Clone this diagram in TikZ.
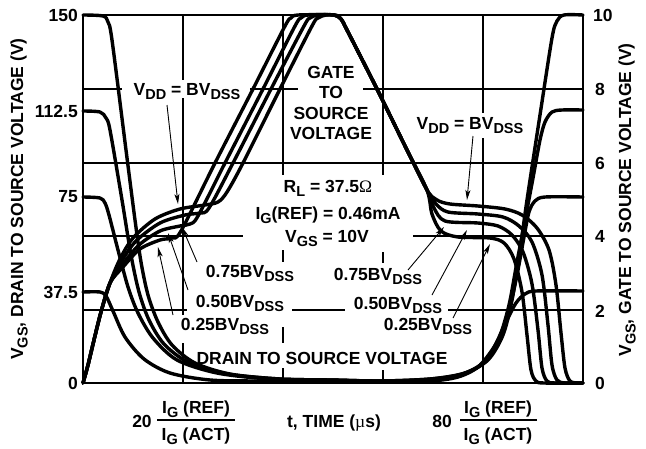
\documentclass[tikz,border=0pt]{standalone}
\usepackage{fontspec}
\setmainfont{Liberation Sans}
\newfontfamily\symf{Liberation Serif}
\usetikzlibrary{arrows.meta}
\newcommand{\subtx}[1]{\raisebox{-4.5pt}{\fontsize{14.5}{14.5}\selectfont #1}}

\begin{document}
\begin{tikzpicture}[x=1pt,y=-1pt,
  wave/.style={line width=3.4pt,line join=round,line cap=round},
  gridln/.style={line width=1.3pt},
  pointer/.style={line width=0.9pt,-{Stealth[length=10pt,width=5pt,inset=2.5pt]}},
  every node/.style={font=\bfseries\fontsize{17.5}{20.5}\selectfont,inner sep=0pt}]
\useasboundingbox (0,0) rectangle (646,448);
\draw[gridln] (83,89) -- (122,89) (250,89) -- (298,89) (363,89) -- (583,89);
\draw[gridln] (83,163) -- (583,163);
\draw[gridln] (83,236) -- (243,236) (413,236) -- (583,236);
\draw[gridln] (83,310) -- (187,310) (292,310) -- (345,310) (448,310) -- (583,310);
\draw[gridln] (183,15) -- (183,80) (183,98) -- (183,315) (183,343) -- (183,383);
\draw[gridln] (283,15) -- (283,175) (283,250) -- (283,262) (283,327) -- (283,343) (283,368) -- (283,383);
\draw[gridln] (383,15) -- (383,175) (383,252) -- (383,263) (383,370) -- (383,383);
\draw[gridln] (483,15) -- (483,113) (483,138) -- (483,383);
\draw[line width=1.5pt] (83,15) rectangle (583,383);

\node[anchor=east] (l150) at (78,15) {150};
\node[anchor=east] (l112) at (78,111) {112.5};
\node[anchor=east] (l75) at (78,197) {75};
\node[anchor=east] (l37) at (78,292) {37.5};
\node[anchor=east] (l0) at (78,383) {0};
\node[anchor=west] (r10) at (593,15) {10};
\node[anchor=west] (r8) at (595,89) {8};
\node[anchor=west] (r6) at (595,163) {6};
\node[anchor=west] (r4) at (595,236) {4};
\node[anchor=west] (r2) at (595,311) {2};
\node[anchor=west] (r0) at (595,383) {0};
\node[rotate=90] (ttlL) at (19,199) {V\subtx{GS}, DRAIN TO SOURCE VOLTAGE (V)};
\node[rotate=90] (ttlR) at (627,200) {V\subtx{GS}, GATE TO SOURCE VOLTAGE (V)};

\node[anchor=base] (vddL) at (187,95) {V\subtx{DD} = BV\subtx{DSS}};
\node[anchor=base] (vddR) at (470,129) {V\subtx{DD} = BV\subtx{DSS}};
\node[align=center] (gate) at (331,103) {GATE\\TO\\SOURCE\\VOLTAGE};
\node[anchor=base] (rl) at (328,192) {R\subtx{L} = 37.5{\symf\mdseries Ω}};
\node[anchor=base] (igref) at (328,219) {I\subtx{G}(REF) = 0.46mA};
\node[anchor=base] (vgs) at (327,242) {V\subtx{GS} = 10V};
\node[anchor=base] (p75L) at (250,277) {0.75BV\subtx{DSS}};
\node[anchor=base] (p50L) at (240,307) {0.50BV\subtx{DSS}};
\node[anchor=base] (p25L) at (225,330) {0.25BV\subtx{DSS}};
\node[anchor=base] (p75R) at (378,280) {0.75BV\subtx{DSS}};
\node[anchor=base] (p50R) at (398,309) {0.50BV\subtx{DSS}};
\node[anchor=base] (p25R) at (428,330) {0.25BV\subtx{DSS}};
\node[anchor=base] (drain) at (322,364) {DRAIN TO SOURCE VOLTAGE};

\node[anchor=base] (n20) at (142,427) {20};
\node[anchor=base] (numL) at (196,413) {I\subtx{G} (REF)};
\node[anchor=base] (denL) at (196,440) {I\subtx{G} (ACT)};
\draw[line width=1.5pt] (157,420) -- (235,420);
\node[anchor=base] (time) at (334,427) {t, TIME ({\symf\mdseries µ}s)};
\node[anchor=base] (n80) at (442,427) {80};
\node[anchor=base] (numR) at (498,413) {I\subtx{G} (REF)};
\node[anchor=base] (denR) at (498,440) {I\subtx{G} (ACT)};
\draw[line width=1.5pt] (460,420) -- (537,420);

\draw[wave] plot[smooth,tension=0.5] coordinates {(83,383) (88,365) (94,340) (101,312) (110,283) (120,259) (133,238) (155,219) (180,209) (205,205) (218,202) (227,192) (243,163) (280,89) (312,26) (318,18) (326,15) (334,15) (341,19) (347,30) (377,89) (407,150) (427,190) (437,200) (450,204) (478,206) (505,209) (522,215) (537,228) (549,250) (556,285) (561,333) (565,368) (570,381) (578,383) (583,383)};
\draw[wave] plot[smooth,tension=0.5] coordinates {(83,383) (88,365) (94,340) (101,312) (110,283) (121,262) (136,241) (160,223) (185,215) (200,213) (209,208) (233,163) (271,89) (304,26) (310,18) (318,15) (334,15) (341,19) (347,30) (377,89) (407,150) (427,190) (436,204) (448,212) (478,214) (503,217) (519,226) (532,242) (542,275) (548,325) (552,365) (557,380) (565,383) (583,383)};
\draw[wave] plot[smooth,tension=0.5] coordinates {(83,383) (88,365) (94,340) (101,312) (110,283) (122,265) (139,245) (160,231) (180,226) (190,224) (198,216) (225,163) (263,89) (295,26) (301,18) (308,15) (334,15) (341,19) (347,30) (377,89) (407,150) (427,190) (434,208) (445,221) (478,223) (498,226) (512,235) (523,252) (532,284) (538,330) (542,368) (547,381) (555,383) (583,383)};
\draw[wave] plot[smooth,tension=0.5] coordinates {(83,383) (88,365) (94,340) (101,312) (110,283) (123,267) (140,249) (160,240) (172,238) (181,231) (215,163) (253,89) (285,26) (291,18) (298,15) (334,15) (341,19) (347,30) (377,89) (407,150) (427,190) (432,214) (441,231) (458,237) (490,238) (504,243) (514,259) (522,292) (527,335) (531,370) (536,381) (544,383) (583,383)};

\draw[wave] plot[smooth,tension=0.5] coordinates {(83,15) (103,16) (108,22) (112,40) (126,150) (135,220) (141,262) (148,295) (158,322) (172,345) (195,363) (230,374) (280,379) (330,380) (380,381) (430,379) (465,373) (488,360) (503,335) (512,300) (520,250) (527,200) (540,115) (552,38) (557,21) (564,15) (583,15)};
\draw[wave] plot[smooth,tension=0.5] coordinates {(83,111) (100,112) (106,118) (110,130) (122,200) (131,255) (139,292) (149,320) (164,344) (188,362) (228,374) (280,379) (330,380) (380,381) (430,379) (462,374) (484,362) (499,338) (509,305) (517,262) (526,215) (533,178) (540,140) (545,122) (552,112) (562,110) (583,110)};
\draw[wave] plot[smooth,tension=0.5] coordinates {(83,197) (100,198) (105,203) (109,215) (118,250) (128,287) (138,313) (153,338) (177,360) (217,373) (270,379) (330,380) (380,381) (430,380) (460,375) (481,365) (497,344) (508,315) (517,275) (524,237) (529,212) (535,201) (545,197) (583,197)};
\draw[wave] plot[smooth,tension=0.5] coordinates {(83,292) (100,292) (106,296) (113,311) (125,337) (144,359) (170,373) (210,380) (260,381) (330,381) (380,381) (430,381) (458,377) (478,367) (494,347) (506,322) (516,303) (525,294) (536,291) (583,291)};

\coordinate (vddLa) at (167,105);
\coordinate (vddLb) at (178,204);
\coordinate (p75La) at (197,262);
\coordinate (p75Lb) at (182,227);
\coordinate (p50La) at (188,290);
\coordinate (p50Lb) at (168,233);
\coordinate (p25La) at (173,315);
\coordinate (p25Lb) at (158,247);
\coordinate (vddRa) at (473,136);
\coordinate (vddRb) at (467,200);
\coordinate (p75Ra) at (408,270);
\coordinate (p75Rb) at (444,227);
\coordinate (p50Ra) at (432,295);
\coordinate (p50Rb) at (467,230);
\coordinate (p25Ra) at (453,318);
\coordinate (p25Rb) at (490,244);
\draw[pointer] (vddLa) -- (vddLb);
\draw[pointer] (p75La) -- (p75Lb);
\draw[pointer] (p50La) -- (p50Lb);
\draw[pointer] (p25La) -- (p25Lb);
\draw[pointer] (vddRa) -- (vddRb);
\draw[pointer] (p75Ra) -- (p75Rb);
\draw[pointer] (p50Ra) -- (p50Rb);
\draw[pointer] (p25Ra) -- (p25Rb);
\end{tikzpicture}
\end{document}
